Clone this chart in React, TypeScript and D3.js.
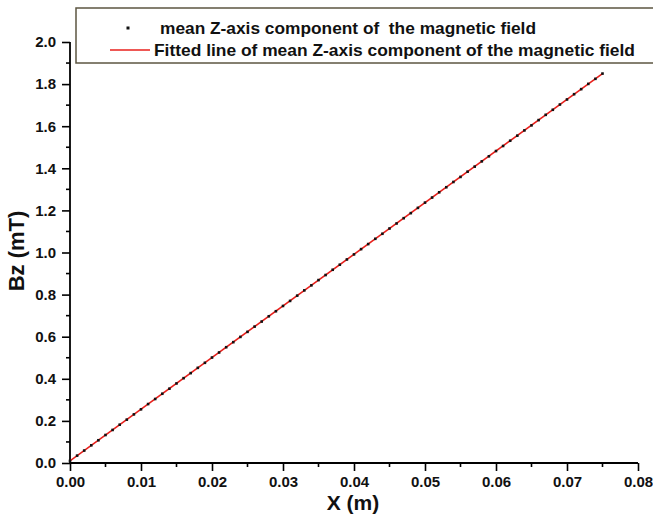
import React, { useEffect, useRef } from 'react';
import * as d3 from 'd3';

// position along X (m), one sample every millimetre
const xValues = [
  0.000, 0.001, 0.002, 0.003, 0.004, 0.005, 0.006, 0.007, 0.008, 0.009,
  0.010, 0.011, 0.012, 0.013, 0.014, 0.015, 0.016, 0.017, 0.018, 0.019,
  0.020, 0.021, 0.022, 0.023, 0.024, 0.025, 0.026, 0.027, 0.028, 0.029,
  0.030, 0.031, 0.032, 0.033, 0.034, 0.035, 0.036, 0.037, 0.038, 0.039,
  0.040, 0.041, 0.042, 0.043, 0.044, 0.045, 0.046, 0.047, 0.048, 0.049,
  0.050, 0.051, 0.052, 0.053, 0.054, 0.055, 0.056, 0.057, 0.058, 0.059,
  0.060, 0.061, 0.062, 0.063, 0.064, 0.065, 0.066, 0.067, 0.068, 0.069,
  0.070, 0.071, 0.072, 0.073, 0.074, 0.075,
];

// mean Bz (mT)
const bzValues = [
  0.010, 0.035, 0.059, 0.084, 0.108, 0.133, 0.157, 0.182, 0.206, 0.231,
  0.255, 0.280, 0.304, 0.329, 0.353, 0.378, 0.403, 0.427, 0.452, 0.476,
  0.501, 0.525, 0.550, 0.574, 0.599, 0.623, 0.648, 0.672, 0.697, 0.721,
  0.746, 0.770, 0.795, 0.820, 0.844, 0.869, 0.893, 0.918, 0.942, 0.967,
  0.991, 1.016, 1.040, 1.065, 1.089, 1.114, 1.138, 1.163, 1.187, 1.212,
  1.237, 1.261, 1.286, 1.310, 1.335, 1.359, 1.384, 1.408, 1.433, 1.457,
  1.482, 1.506, 1.531, 1.555, 1.580, 1.604, 1.629, 1.654, 1.678, 1.703,
  1.727, 1.752, 1.776, 1.801, 1.825, 1.850,
];

// fitted line end points
const fitX = [0.0, 0.075];
const fitY = [0.010, 1.850];

const xTicks = [0, 0.01, 0.02, 0.03, 0.04, 0.05, 0.06, 0.07, 0.08];
const yTicks = [0, 0.2, 0.4, 0.6, 0.8, 1.0, 1.2, 1.4, 1.6, 1.8, 2.0];

const legendLabels = [
  'mean Z-axis component of  the magnetic field',
  'Fitted line of mean Z-axis component of the magnetic field',
];

const W = 653;
const H = 517;
const FONT = '"Liberation Sans", Arial, sans-serif';

const App = () => {
  const ref = useRef<SVGSVGElement>(null);

  useEffect(() => {
    const svg = d3.select(ref.current);
    svg.selectAll('*').remove();

    const x = d3.scaleLinear().domain([0, 0.08]).range([70, 638]);
    const y = d3.scaleLinear().domain([0, 2.0]).range([463, 42]);

    svg.append('rect').attr('width', W).attr('height', H).attr('fill', '#fff');

    // minor ticks
    const xMinor = d3.range(0.005, 0.08, 0.01);
    const yMinor = d3.range(0.1, 2.0, 0.2);

    // x axis
    const gx = svg.append('g')
      .attr('transform', `translate(0,${y(0)})`)
      .call(d3.axisBottom(x).tickValues(xTicks).tickFormat(d3.format('.2f')).tickSize(8).tickPadding(5));
    gx.append('g').selectAll('line')
      .data(xMinor)
      .join('line')
      .attr('x1', d => x(d)).attr('x2', d => x(d))
      .attr('y1', 0).attr('y2', 4)
      .attr('stroke', '#000').attr('stroke-width', 1.6);

    // y axis
    const gy = svg.append('g')
      .attr('transform', `translate(${x(0)},0)`)
      .call(d3.axisLeft(y).tickValues(yTicks).tickFormat(d3.format('.1f')).tickSize(8).tickPadding(6));
    gy.append('g').selectAll('line')
      .data(yMinor)
      .join('line')
      .attr('y1', d => y(d)).attr('y2', d => y(d))
      .attr('x1', 0).attr('x2', -4)
      .attr('stroke', '#000').attr('stroke-width', 1.6);

    [gx, gy].forEach(g => {
      g.select('.domain').attr('stroke', '#000').attr('stroke-width', 1.8);
      g.selectAll('.tick line').attr('stroke', '#000').attr('stroke-width', 1.6);
      g.selectAll('.tick text')
        .attr('fill', '#111')
        .style('font-family', FONT)
        .style('font-size', '15px')
        .style('font-weight', 'bold');
    });
    // only the axis lines, no outer end caps
    gx.select('.domain').attr('d', `M${x(0)},0H${x(0.08)}`);
    gy.select('.domain').attr('d', `M0,${y(0)}V${y(2.0)}`);

    // axis titles
    svg.append('text')
      .attr('x', 353).attr('y', 510)
      .attr('text-anchor', 'middle')
      .style('font-family', FONT).style('font-size', '21px').style('font-weight', 'bold')
      .attr('fill', '#111')
      .text('X (m)');
    svg.append('text')
      .attr('transform', `translate(24,${251}) rotate(-90)`)
      .attr('text-anchor', 'middle')
      .style('font-family', FONT).style('font-size', '22px').style('font-weight', 'bold')
      .attr('fill', '#111')
      .text('Bz (mT)');

    // fitted line
    const line = d3.line<number>()
      .x((_, i) => x(fitX[i]))
      .y(d => y(d));
    svg.append('path')
      .datum(fitY)
      .attr('fill', 'none')
      .attr('stroke', '#e8201c')
      .attr('stroke-width', 1.6)
      .attr('d', line);

    // data points
    svg.append('g').selectAll('rect')
      .data(bzValues)
      .join('rect')
      .attr('x', (_, i) => x(xValues[i]) - 1.3)
      .attr('y', d => y(d) - 1.3)
      .attr('width', 2.6)
      .attr('height', 2.6)
      .attr('fill', '#111');

    // legend
    const lg = svg.append('g');
    lg.append('rect')
      .attr('x', 76).attr('y', 8)
      .attr('width', 600).attr('height', 55)
      .attr('fill', '#fff')
      .attr('stroke', '#5c5642')
      .attr('stroke-width', 1.5);
    lg.append('rect')
      .attr('x', 126.5).attr('y', 26.5).attr('width', 3).attr('height', 3)
      .attr('fill', '#111');
    lg.append('line')
      .attr('x1', 110).attr('x2', 150)
      .attr('y1', 50).attr('y2', 50)
      .attr('stroke', '#e8201c').attr('stroke-width', 1.5);
    const legW = [376, 481];
    lg.selectAll('text.leg')
      .data(legendLabels)
      .join('text')
      .attr('class', 'leg')
      .attr('x', (_, i) => (i === 0 ? 160 : 154))
      .attr('y', (_, i) => (i === 0 ? 34 : 56))
      .attr('textLength', (_, i) => legW[i])
      .attr('lengthAdjust', 'spacingAndGlyphs')
      .style('font-family', FONT).style('font-size', '17px').style('font-weight', 'bold')
      .style('white-space', 'pre')
      .attr('fill', '#111')
      .text(d => d);
  }, []);

  return (
    <div style={{ position: 'fixed', left: 0, top: 0 }}>
      <svg ref={ref} width={W} height={H} style={{ display: 'block' }} />
    </div>
  );
};

export default App;
